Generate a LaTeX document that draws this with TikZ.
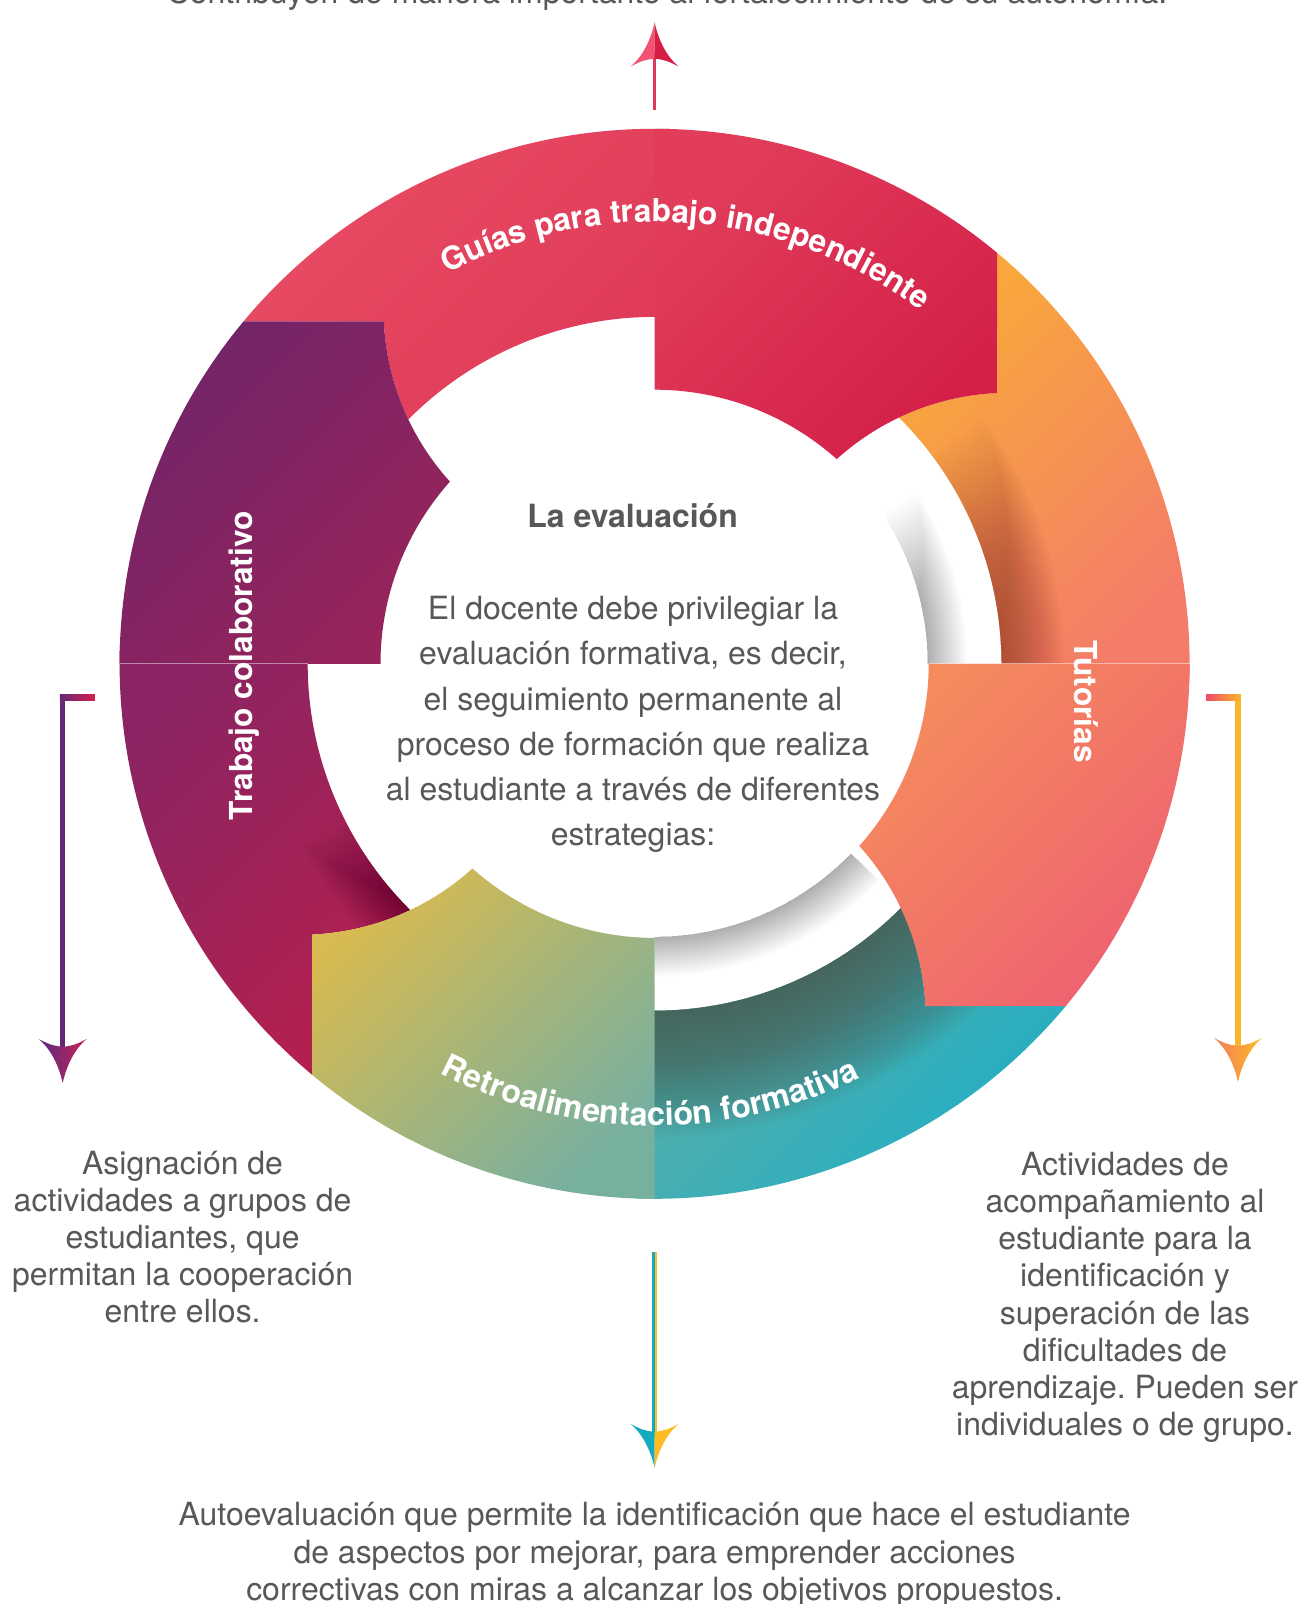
\documentclass[tikz,border=0pt]{standalone}
\usepackage{fontspec}
\setmainfont{TeX Gyre Heros}
\usetikzlibrary{decorations.text}
\frenchspacing

\definecolor{txtgray}{HTML}{58585A}
\definecolor{redA}{HTML}{E84C63}
\definecolor{redB}{HTML}{DF3A59}
\definecolor{redC}{HTML}{E13D5B}
\definecolor{redD}{HTML}{D41F48}
\definecolor{orA}{HTML}{F9A93A}
\definecolor{orB}{HTML}{F47C6A}
\definecolor{coA}{HTML}{F58B5D}
\definecolor{coB}{HTML}{EE6171}
\definecolor{tlA}{HTML}{5EAEA6}
\definecolor{tlB}{HTML}{1FAEC5}
\definecolor{tlDark}{HTML}{455C52}
\definecolor{ygA}{HTML}{D7BA50}
\definecolor{ygB}{HTML}{78B0A0}
\definecolor{puA}{HTML}{8A2463}
\definecolor{puB}{HTML}{B4204E}
\definecolor{puC}{HTML}{722469}
\definecolor{puD}{HTML}{97245A}
\definecolor{foldbrown}{HTML}{8A3426}
\definecolor{arPink}{HTML}{F05472}
\definecolor{arRed}{HTML}{D51D46}
\definecolor{arRedShaft}{HTML}{E0375A}
\definecolor{arPurple}{HTML}{652878}
\definecolor{arPurpleHd}{HTML}{5B2A7F}
\definecolor{arCrimson}{HTML}{C62459}
\definecolor{arStubRed}{HTML}{D51F4B}
\definecolor{arYel}{HTML}{FBB52B}
\definecolor{arYelHd}{HTML}{FDBB22}
\definecolor{arCoral}{HTML}{F37E5C}
\definecolor{arStubPink}{HTML}{EE4B6B}
\definecolor{arTeal}{HTML}{14AAC0}
\definecolor{arGold}{HTML}{FDBC1F}

% one quarter of the ring, turned by #1 degrees
\newcommand{\headpath}[1]{({90+(#1)}:535) arc[start angle={90+(#1)}, end angle={50.2+(#1)}, radius=535]
  -- ({38.34+(#1)}:436.5) arc[start angle={92.66+(#1)}, end angle={132.18+(#1)}, radius=256.28]
  arc[start angle={48.3+(#1)}, end angle={90+(#1)}, radius=274] -- cycle}
\newcommand{\tailpath}[1]{({88+(#1)}:347) -- ({88+(#1)}:535) arc[start angle={88+(#1)}, end angle={140.2+(#1)}, radius=535]
  -- ({128.34+(#1)}:436.5) arc[start angle={182.66+(#1)}, end angle={205.4+(#1)}, radius=256.28]
  arc[start angle={135.22+(#1)}, end angle={88+(#1)}, radius=347] -- cycle}
% ring band: start angle, end angle, inner radius, outer radius
\newcommand{\ringband}[4]{({#1}:{#3}) arc[start angle={#1}, end angle={#2}, radius={#3}]
  -- ({#2}:{#4}) arc[start angle={#2}, end angle={#1}, radius={#4}] -- cycle}
\newcommand{\ringfont}{\fontsize{18}{20}\selectfont\bfseries}
\newcommand{\ringfontb}{\fontsize{18.4}{20}\selectfont\bfseries}

% arrow heads: tip, direction (1 down, -1 up), left colour, right colour
\newcommand{\splithead}[4]{%
  \begin{scope}[shift={(#1)}]
    \fill[#3] (0,0) .. controls (-4,{18*(#2)}) and (-12,{34*(#2)}) .. (-24,{44*(#2)})
      .. controls (-12,{38*(#2)}) .. (0,{36*(#2)}) -- cycle;
    \fill[#4] (0,0) .. controls (4,{18*(#2)}) and (12,{34*(#2)}) .. (24,{44*(#2)})
      .. controls (12,{38*(#2)}) .. (0,{36*(#2)}) -- cycle;
  \end{scope}}
\newcommand{\shadehead}[4]{%
  \begin{scope}[shift={(#1)}]
    \shade[left color=#3, right color=#4] (0,0) .. controls (-4,{18*(#2)}) and (-12,{34*(#2)}) .. (-24,{44*(#2)})
      .. controls (-12,{38*(#2)}) .. (0,{36*(#2)}) .. controls (12,{38*(#2)}) .. (24,{44*(#2)})
      .. controls (12,{34*(#2)}) and (4,{18*(#2)}) .. (0,0) -- cycle;
  \end{scope}}

\tikzset{
  sidetxt/.style={text=txtgray, align=center, inner sep=0pt, font=\fontsize{18.2}{21.1}\selectfont},
  midtxt/.style={sidetxt, font=\fontsize{18.2}{25.7}\selectfont},
  titletxt/.style={text=txtgray, inner sep=0pt, font=\fontsize{18.2}{21}\selectfont\bfseries},
  ringlbl/.style={text=white, inner sep=0pt, font=\ringfont},
  seam/.style={white, opacity=0.45, line width=0.02cm},
  shaft/.style={line width=0.11cm, shorten >=0.6cm},
}

\begin{document}
\begin{tikzpicture}[x=0.02cm, y=0.02cm]
  \useasboundingbox (-654.6,-940.2) rectangle (647.4,663.8);
  \clip (-654.6,-940.2) rectangle (647.4,663.8);
  \fill[white] (-654.6,-940.2) rectangle (647.4,663.8);

  % soft shadows in the white gap
  \foreach \i in {1,...,40}{
    \fill[black, opacity=0.0065] \ringband{0}{14+0.48*\i}{273}{273+1*\i};
    \fill[black, opacity=0.0065] \ringband{-90}{-44}{273}{273+1*\i};
  }

  % tails of the four pieces
  \shade[top color=redA, bottom color=redB, shading angle=45] \tailpath{0};
  \shade[top color=orA, bottom color=orB, shading angle=45] \tailpath{-90};
  \shade[top color=tlA, bottom color=tlB, shading angle=45] \tailpath{-180};
  \shade[top color=puA, bottom color=puB, shading angle=45] \tailpath{-270};

  % darker folds
  \begin{scope}
    \clip \tailpath{-90};
    \foreach \i in {1,...,40}
      \fill[foldbrown, opacity=0.018] \ringband{-1}{6+0.77*\i}{346}{346+1.6*\i};
  \end{scope}
  \begin{scope}
    \clip \tailpath{-180};
    \foreach \i in {1,...,40}
      \fill[tlDark, opacity=0.037] \ringband{-91}{-38}{346}{346+3.2*\i};
  \end{scope}
  \begin{scope}
    \clip \tailpath{-270};
    \foreach \i in {1,...,30}
      \fill[black, opacity=0.012] \ringband{-129}{-138-0.5*\i}{346}{346+1.7*\i};
  \end{scope}

  % heads of the four pieces
  \shade[top color=redC, bottom color=redD, shading angle=45] \headpath{0};
  \shade[top color=coA, bottom color=coB, shading angle=45] \headpath{-90};
  \shade[top color=ygA, bottom color=ygB, shading angle=45] \headpath{-180};
  \shade[top color=puC, bottom color=puD, shading angle=45] \headpath{-270};

  \draw[seam] (0:274) -- (0:535);
  \draw[seam] (180:347) -- (180:535);

  % labels on the ring
  \path[decorate, decoration={text along path, text align=center, text color=white,
      text={|\ringfont|Guías para trabajo independiente}}]
    (130.5:442) arc[start angle=130.5, end angle=40.5, radius=442];
  \path[decorate, decoration={text along path, text align=center, text color=white,
      text={|\ringfontb|Retroalimentación formativa}}]
    (-135.6:462) arc[start angle=-135.6, end angle=-45.6, radius=462];
  \node[ringlbl, rotate=-90] (tutorias) at (431.5,-37.8) {Tutorías};
  \node[ringlbl, rotate=90] (trabajo) at (-410,-2) {Trabajo colaborativo};

  % centre
  \node[titletxt, anchor=base] (title) at (-22,136.3) {La evaluación};
  \node[midtxt] (body) at (-21.6,-60.7) {El docente debe privilegiar la\\
    evaluación formativa, es decir,\\
    el seguimiento permanente al\\
    proceso de formación que realiza\\
    al estudiante a través de diferentes\\
    estrategias:};

  % outside texts
  \node[sidetxt, anchor=base] (toptxt) at (12.4,659.8) {Contribuyen de manera importante al fortalecimiento de su autonomía.};
  \node[sidetxt] (ltxt) at (-472,-573.2) {Asignación de\\
    actividades a grupos de\\
    estudiantes, que\\
    permitan la cooperación\\
    entre ellos.};
  \node[sidetxt] (rtxt) at (470.4,-633.5) {Actividades de\\
    acompañamiento al\\
    estudiante para la\\
    identificación y\\
    superación de las\\
    dificultades de\\
    aprendizaje. Pueden ser\\
    individuales o de grupo.};
  \node[sidetxt] (btxt) at (0,-891) {Autoevaluación que permite la identificación que hace el estudiante\\
    de aspectos por mejorar, para emprender acciones\\
    correctivas con miras a alcanzar los objetivos propuestos.};

  % arrows
  \coordinate (topstart) at (0,553.3);
  \coordinate (toptip) at (0,641.3);
  \draw[shaft, line width=0.07cm, arRedShaft] (topstart) -- (toptip);
  \splithead{toptip}{-1}{arPink}{arRed}

  \coordinate (lstub) at (-559.6,-33.7);
  \coordinate (ltip) at (-591.9,-419.2);
  \draw[shaft, arPurple] (lstub) -| (ltip);
  \shade[left color=arPurple, right color=arStubRed] (-594.65,-36.45) rectangle (-559.6,-30.95);
  \shadehead{ltip}{1}{arPurpleHd}{arCrimson}

  \coordinate (rstub) at (551.4,-33.7);
  \coordinate (rtip) at (583.4,-418.2);
  \draw[shaft, arYel] (rstub) -| (rtip);
  \shade[left color=arStubPink, right color=arYel] (551.4,-36.45) rectangle (586.15,-30.95);
  \shadehead{rtip}{1}{arCoral}{arYelHd}

  \coordinate (bstart) at (0,-588.2);
  \coordinate (btip) at (0,-804.2);
  \draw[shaft, line width=0.052cm, arTeal] ([xshift=-0.026cm]bstart) -- ([xshift=-0.026cm]btip);
  \draw[shaft, line width=0.052cm, arGold] ([xshift=0.026cm]bstart) -- ([xshift=0.026cm]btip);
  \splithead{btip}{1}{arTeal}{arGold}
\end{tikzpicture}
\end{document}
